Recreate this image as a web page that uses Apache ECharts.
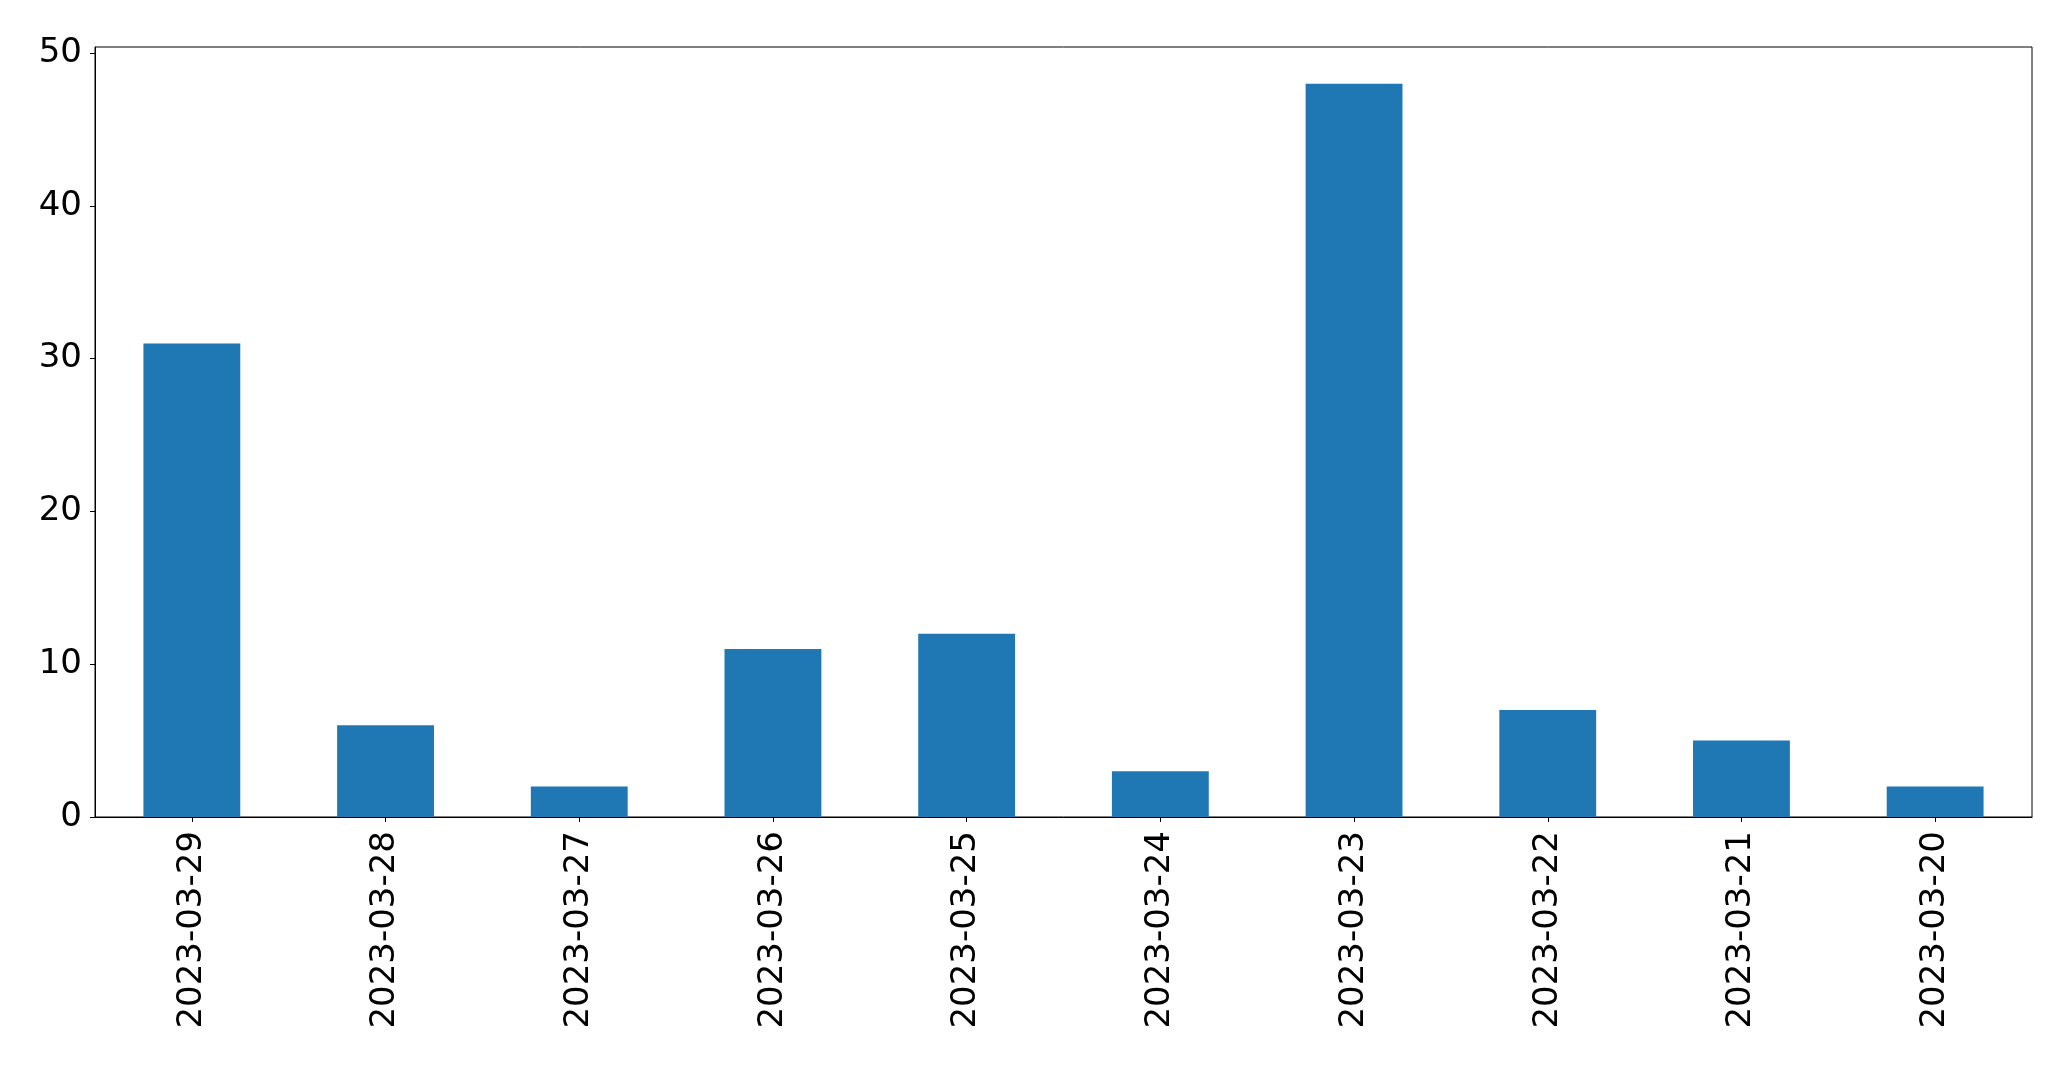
<!DOCTYPE html>
<html>
<head>
<meta charset="utf-8">
<script src="https://cdn.jsdelivr.net/npm/echarts@6/dist/echarts.min.js"></script>
<style>
html,body{margin:0;padding:0;background:#fff;}
#chart{width:2071px;height:1069px;}
</style>
</head>
<body>
<div id="chart"></div>
<script>
const categories = ['2023-03-29','2023-03-28','2023-03-27','2023-03-26','2023-03-25','2023-03-24','2023-03-23','2023-03-22','2023-03-21','2023-03-20'];
const values = [31, 6, 2, 11, 12, 3, 48, 7, 5, 2];
const yTicks = [0, 10, 20, 30, 40, 50];

const chart = echarts.init(document.getElementById('chart'), null, {renderer: 'canvas'});
const font = 'DejaVu Sans';
chart.setOption({
  animation: false,
  backgroundColor: '#ffffff',
  grid: {
    left: 95, right: 39, top: 47, bottom: 252,
    show: true, borderColor: '#000', borderWidth: 1, backgroundColor: 'transparent'
  },
  xAxis: {
    type: 'category',
    data: categories,
    boundaryGap: true,
    axisLine: {show: true, lineStyle: {color: '#000', width: 1}},
    axisTick: {show: true, alignWithLabel: true, length: 5, lineStyle: {color: '#000', width: 1}},
    axisLabel: {rotate: 90, fontFamily: font, fontSize: 34, color: '#000', margin: 14, interval: 0},
    splitLine: {show: false}
  },
  yAxis: {
    type: 'value',
    min: 0,
    max: 50.4,
    interval: 10,
    axisLine: {show: true, lineStyle: {color: '#000', width: 1}},
    axisTick: {show: true, length: 5, lineStyle: {color: '#000', width: 1}, customValues: yTicks},
    axisLabel: {fontFamily: font, fontSize: 34, color: '#000', margin: 13, customValues: yTicks},
    splitLine: {show: false}
  },
  series: [{
    type: 'bar',
    data: values,
    barWidth: '50%',
    itemStyle: {color: '#1f77b4'}
  }]
});
</script>
</body>
</html>
